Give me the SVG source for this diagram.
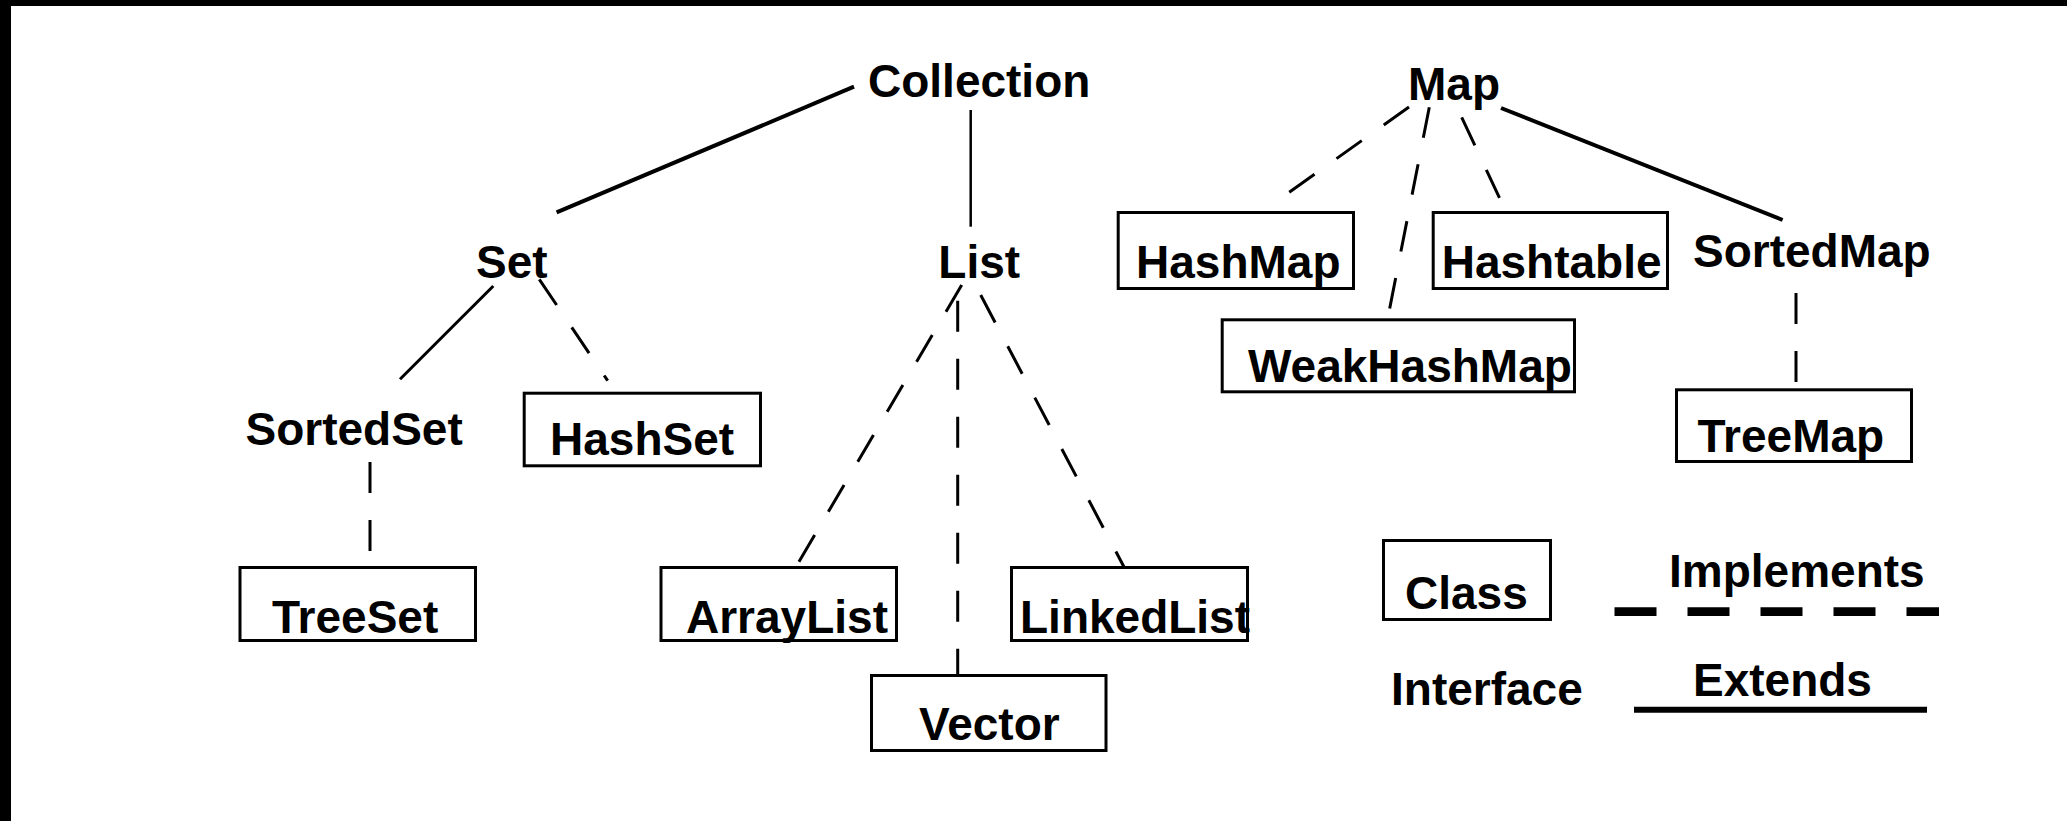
<svg xmlns="http://www.w3.org/2000/svg" width="2067" height="821" viewBox="0 0 2067 821">
<style>
.t{font-family:"Liberation Sans",Arial,sans-serif;font-weight:bold;font-size:46px;fill:#000}
.box{fill:none;stroke:#000;stroke-width:3}
.solid{stroke:#000;fill:none;stroke-width:3}
.thick{stroke:#000;fill:none;stroke-width:4}
.thin{stroke:#000;fill:none;stroke-width:2.5}
.dash{stroke:#000;fill:none;stroke-width:3;stroke-dasharray:31 27}
</style>
<rect x="0" y="0" width="2067" height="821" fill="#fff"/>
<rect x="0" y="0" width="2067" height="6" fill="#000"/>
<rect x="0" y="0" width="11" height="821" fill="#000"/>

<g id="connectors">
<line class="thick" x1="854" y1="86.7" x2="556.6" y2="212.3"/>
<line class="thin" x1="970.7" y1="110" x2="970.7" y2="226.7"/>
<line class="solid" x1="493.3" y1="286" x2="400" y2="379.3"/>
<line class="dash" x1="539.3" y1="279.3" x2="607.7" y2="380.7"/>
<line class="dash" x1="370" y1="462" x2="370" y2="552"/>
<line class="dash" x1="961.7" y1="285" x2="796" y2="566.7"/>
<line class="dash" x1="957.7" y1="300.7" x2="957.7" y2="674"/>
<line class="dash" x1="980.7" y1="295" x2="1124" y2="567"/>
<line class="dash" x1="1409" y1="107" x2="1284" y2="196"/>
<line class="dash" x1="1429.3" y1="107.3" x2="1388" y2="317"/>
<line class="dash" x1="1461.7" y1="117.3" x2="1500" y2="199"/>
<line class="thick" x1="1501" y1="108" x2="1782.6" y2="220"/>
<line class="dash" x1="1796" y1="293" x2="1796" y2="386"/>
</g>

<g id="Collection"><text class="t" x="868" y="97">Collection</text></g>
<g id="Set"><text class="t" x="476" y="278">Set</text></g>
<g id="List"><text class="t" x="938.3" y="278">List</text></g>
<g id="SortedSet"><text class="t" x="245.5" y="445">SortedSet</text></g>
<g id="HashSet"><rect class="box" x="524.2" y="393.2" width="236.3" height="72.6"/><text class="t" x="550" y="455">HashSet</text></g>
<g id="TreeSet"><rect class="box" x="240" y="567.5" width="235.5" height="73"/><text class="t" x="272" y="633">TreeSet</text></g>
<g id="ArrayList"><rect class="box" x="661" y="567.5" width="235.5" height="73"/><text class="t" x="686" y="633">ArrayList</text></g>
<g id="LinkedList"><rect class="box" x="1011.5" y="567.5" width="236" height="73"/><text class="t" x="1020" y="633">LinkedList</text></g>
<g id="Vector"><rect class="box" x="871.5" y="675.5" width="234.5" height="75"/><text class="t" x="919" y="740">Vector</text></g>
<g id="Map"><text class="t" x="1408" y="100">Map</text></g>
<g id="HashMap"><rect class="box" x="1118.2" y="212.5" width="235.3" height="76"/><text class="t" x="1136" y="278">HashMap</text></g>
<g id="Hashtable"><rect class="box" x="1433.2" y="212.5" width="234.3" height="76"/><text class="t" x="1441.7" y="278">Hashtable</text></g>
<g id="SortedMap"><text class="t" x="1693" y="267">SortedMap</text></g>
<g id="WeakHashMap"><rect class="box" x="1222.2" y="319.8" width="352.3" height="72"/><text class="t" x="1248" y="382">WeakHashMap</text></g>
<g id="TreeMap"><rect class="box" x="1676.5" y="389.8" width="235" height="71.7"/><text class="t" x="1697.5" y="452">TreeMap</text></g>

<g id="legend">
<rect class="box" x="1383.5" y="540.5" width="167" height="79"/>
<text class="t" x="1405" y="609">Class</text>
<text class="t" x="1669" y="587">Implements</text>
<line x1="1614.5" y1="611.7" x2="1939" y2="611.7" stroke="#000" stroke-width="8.7" stroke-dasharray="42 31"/>
<text class="t" x="1391" y="705">Interface</text>
<text class="t" x="1693" y="696">Extends</text>
<line x1="1634" y1="709.7" x2="1927" y2="709.7" stroke="#000" stroke-width="6"/>
</g>
</svg>
